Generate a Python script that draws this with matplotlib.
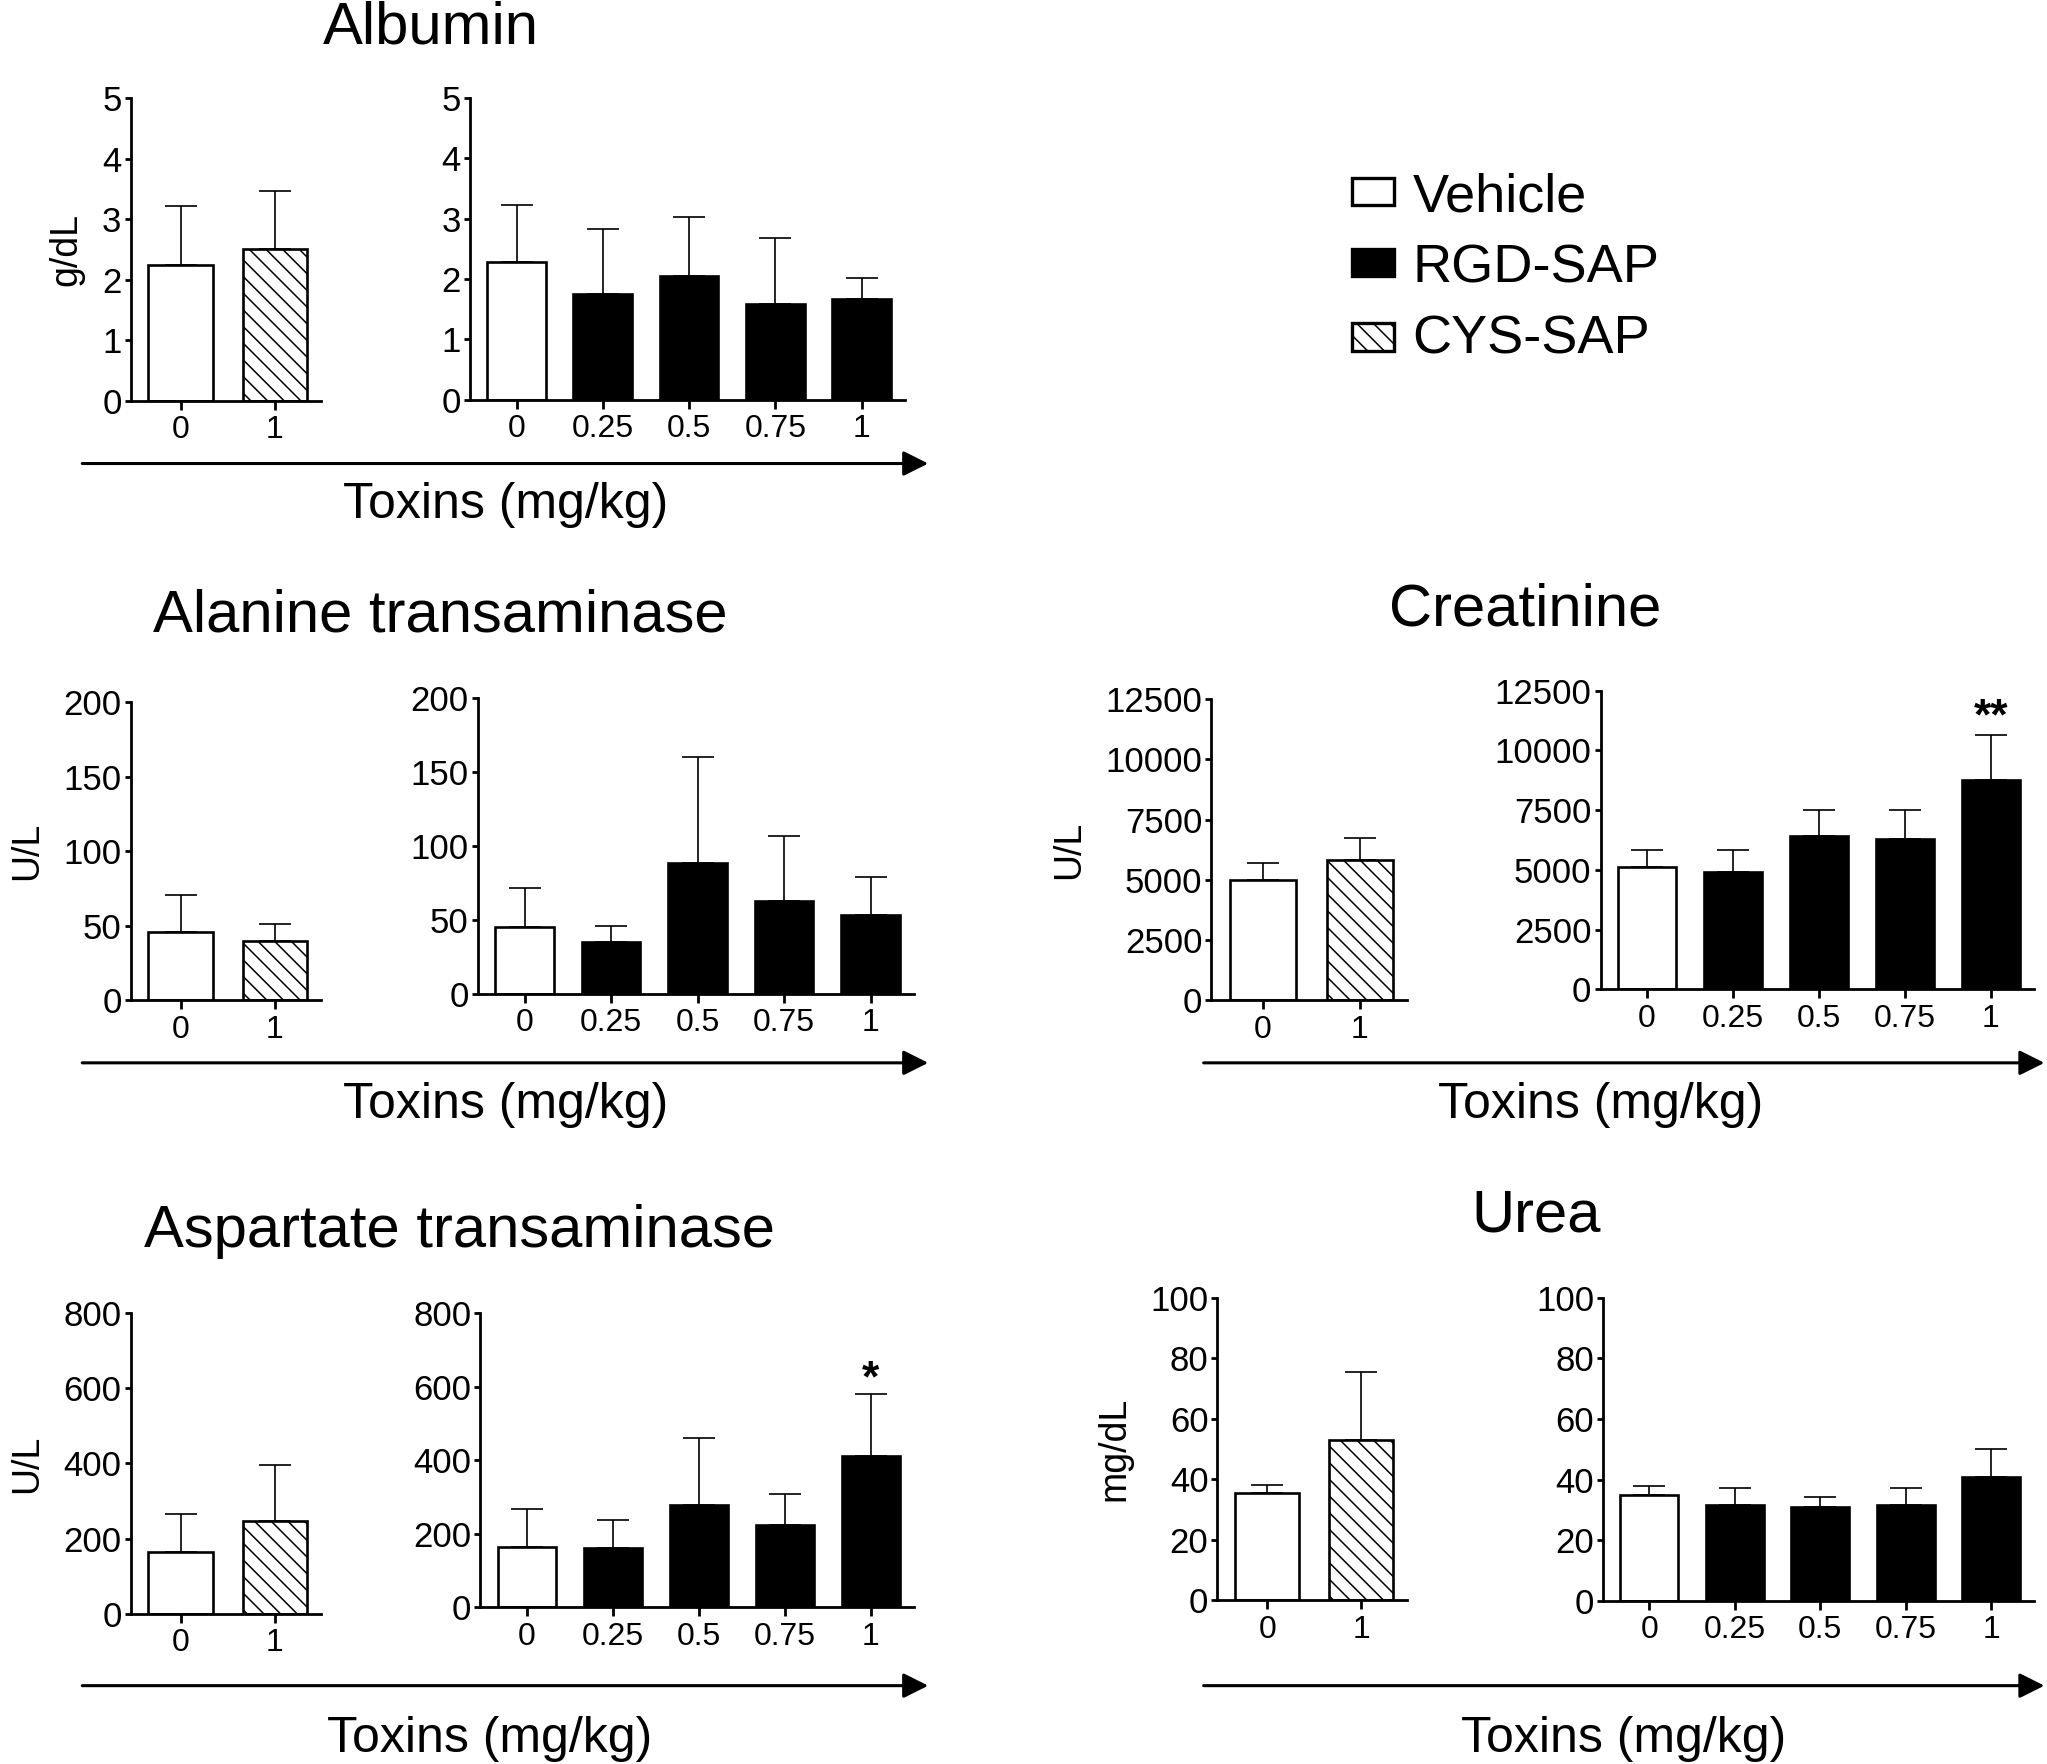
import matplotlib
matplotlib.use('Agg')
import matplotlib.pyplot as plt
from matplotlib.patches import Rectangle
import numpy as np

plt.rcParams['font.family'] = ['Liberation Sans', 'DejaVu Sans']
plt.rcParams['hatch.linewidth'] = 1.1
plt.rcParams['hatch.color'] = 'black'

# ---- data ----
doses_small = ['0', '1']
doses_large = ['0', '0.25', '0.5', '0.75', '1']
kinds_small = ['Vehicle', 'CYS-SAP']
kinds_large = ['Vehicle', 'RGD-SAP', 'RGD-SAP', 'RGD-SAP', 'RGD-SAP']

alb_small = [2.25, 2.51]
alb_small_err = [0.97, 0.95]
alb_large = [2.28, 1.75, 2.05, 1.59, 1.66]
alb_large_err = [0.95, 1.07, 0.97, 1.08, 0.36]

alt_small = [46, 40]
alt_small_err = [24.5, 11]
alt_large = [45.4, 34.6, 88.2, 62.7, 52.9]
alt_large_err = [25.9, 11.0, 72.0, 43.7, 25.9]

crea_small = [5000, 5820]
crea_small_err = [700, 930]
crea_large = [5110, 4925, 6415, 6270, 8775]
crea_large_err = [725, 910, 1090, 1230, 1870]

ast_small = [165, 246]
ast_small_err = [100, 149]
ast_large = [165, 160, 279, 225, 410]
ast_large_err = [103, 78, 180, 82, 169]

urea_small = [35.3, 52.9]
urea_small_err = [2.7, 22.4]
urea_large = [34.9, 31.5, 31.0, 31.5, 40.8]
urea_large_err = [3.0, 5.8, 3.3, 5.8, 9.2]

STYLES = {
    'Vehicle': dict(facecolor='white', edgecolor='black', hatch=None),
    'RGD-SAP': dict(facecolor='black', edgecolor='black', hatch=None),
    'CYS-SAP': dict(facecolor='white', edgecolor='black', hatch='\\\\'),
}

# layout in reference pixels (1568 x 1351 grid)
W, H = 1568.0, 1351.0


def rect(x0, x1, ytop, ybot):
    return [x0 / W, 1 - ybot / H, (x1 - x0) / W, (ybot - ytop) / H]


fig = plt.figure(figsize=(20.47, 17.64), dpi=100)
over = fig.add_axes([0, 0, 1, 1])
over.set_xlim(0, W)
over.set_ylim(H, 0)
over.axis('off')


def draw(box, labels, means, errs, kinds, xlim, ymax, ystep, ylabel=None):
    ax = fig.add_axes(rect(*box))
    x = np.arange(len(labels))
    for xi, m, k in zip(x, means, kinds):
        ax.bar(xi, m, width=0.68, linewidth=1.9, zorder=2, **STYLES[k])
    ax.errorbar(x, means, yerr=[np.zeros(len(means)), errs], fmt='none',
                ecolor='black', elinewidth=1.2, capsize=11.5, capthick=1.2,
                zorder=1)
    ax.set_xlim(*xlim)
    ax.set_ylim(0, ymax)
    ax.set_yticks(np.arange(0, ymax + ystep / 2, ystep))
    ax.set_xticks(x)
    ax.set_xticklabels(labels)
    for s in ['top', 'right']:
        ax.spines[s].set_visible(False)
    for s in ['left', 'bottom']:
        ax.spines[s].set_linewidth(2)
    ax.tick_params(axis='y', length=4.5, width=2, labelsize=25, pad=2)
    ax.tick_params(axis='x', length=6.5, width=2, labelsize=23, pad=4)
    if ylabel:
        ax.set_ylabel(ylabel, fontsize=27, labelpad=13)
    ax.patch.set_alpha(0)
    return ax


SMALL_X = (-0.53, 1.49)
LARGE_X = (-0.54, 4.5)

# Albumin
draw((100, 246, 75, 307), doses_small, alb_small, alb_small_err, kinds_small, SMALL_X, 5, 1, 'g/dL')
draw((360, 693, 75, 306), doses_large, alb_large, alb_large_err, kinds_large, LARGE_X, 5, 1)
# Alanine transaminase
draw((100, 246, 538, 766), doses_small, alt_small, alt_small_err, kinds_small, SMALL_X, 200, 50, 'U/L')
draw((366, 700, 534.5, 761), doses_large, alt_large, alt_large_err, kinds_large, LARGE_X, 200, 50)
# Aspartate transaminase
draw((100, 246, 1005.6, 1236), doses_small, ast_small, ast_small_err, kinds_small, SMALL_X, 800, 200, 'U/L')
ax_ast = draw((368, 700, 1005.6, 1231), doses_large, ast_large, ast_large_err, kinds_large, LARGE_X, 800, 200)
# Creatinine
draw((928, 1078, 535.5, 766), doses_small, crea_small, crea_small_err, kinds_small, SMALL_X, 12500, 2500, 'U/L')
ax_crea = draw((1226, 1558, 529, 757.6), doses_large, crea_large, crea_large_err, kinds_large, LARGE_X, 12500, 2500)
# Urea
draw((932.6, 1078, 993.8, 1225.5), doses_small, urea_small, urea_small_err, kinds_small, SMALL_X, 100, 20, 'mg/dL')
draw((1228, 1558, 993.8, 1226), doses_large, urea_large, urea_large_err, kinds_large, LARGE_X, 100, 20)

# significance marks
ax_crea.text(4, 10900, '**', ha='center', va='baseline', fontsize=32, fontweight='bold', clip_on=False)
ax_ast.text(4, 587, '*', ha='center', va='baseline', fontsize=32, fontweight='bold', clip_on=False)

# titles
titles = [('Albumin', 330, 33), ('Alanine transaminase', 337, 484),
          ('Creatinine', 1168, 479), ('Aspartate transaminase', 352, 955),
          ('Urea', 1177, 943.5)]
for t, x, y in titles:
    over.text(x, y, t, ha='center', va='baseline', fontsize=43)

# dose arrows and labels
arrows = [(63, 711, 355, 387, 397), (63, 711, 814, 387, 856),
          (63, 711, 1291, 375, 1342), (922, 1566, 814, 1226, 856),
          (922, 1566, 1291, 1244, 1342)]
for x0, x1, y, lx, ly in arrows:
    over.annotate('', xy=(x1, y), xytext=(x0, y),
                  arrowprops=dict(arrowstyle='-|>', lw=2.2, color='black',
                                  mutation_scale=38, shrinkA=0, shrinkB=0))
    over.text(lx, ly, 'Toxins (mg/kg)', ha='center', va='baseline', fontsize=36)

# legend
legend_rows = [('Vehicle', 146.5, 161.7), ('RGD-SAP', 201, 216), ('CYS-SAP', 258, 270.8)]
for name, yc, yb in legend_rows:
    st = STYLES[name]
    over.add_patch(Rectangle((1036, yc - 10.5), 32, 21, linewidth=2.4,
                             facecolor=st['facecolor'], edgecolor='black',
                             hatch=st['hatch']))
    over.text(1082, yb, name, ha='left', va='baseline', fontsize=39)

fig.savefig('out.png', dpi=100)
